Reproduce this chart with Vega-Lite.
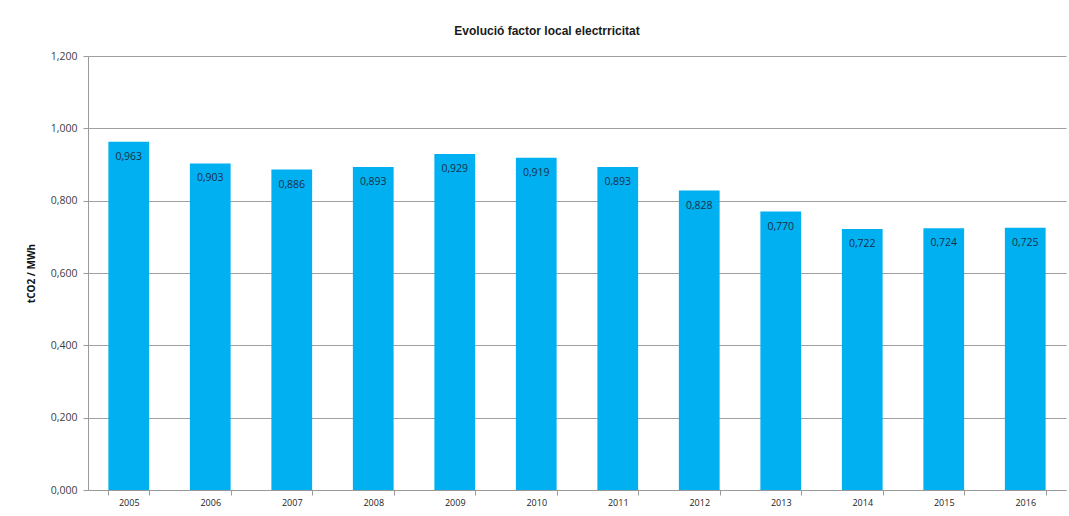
{
  "$schema": "https://vega.github.io/schema/vega-lite/v6.json",
  "width": 978,
  "height": 434,
  "autosize": {"type": "none"},
  "padding": {"left": 88, "top": 56, "right": 3, "bottom": 26},
  "background": "white",
  "title": {
    "text": "Evolució factor local electrricitat",
    "font": "Liberation Sans",
    "fontSize": 12,
    "fontWeight": "bold",
    "color": "#1a1a1a",
    "anchor": "middle",
    "dx": -30,
    "offset": 13
  },
  "data": {
    "values": [
      {"year": "2005", "value": 0.963},
      {"year": "2006", "value": 0.903},
      {"year": "2007", "value": 0.886},
      {"year": "2008", "value": 0.893},
      {"year": "2009", "value": 0.929},
      {"year": "2010", "value": 0.919},
      {"year": "2011", "value": 0.893},
      {"year": "2012", "value": 0.828},
      {"year": "2013", "value": 0.770},
      {"year": "2014", "value": 0.722},
      {"year": "2015", "value": 0.724},
      {"year": "2016", "value": 0.725}
    ]
  },
  "encoding": {
    "x": {
      "field": "year",
      "type": "ordinal",
      "scale": {"paddingInner": 0.5, "paddingOuter": 0.25},
      "axis": {
        "title": null,
        "labelAngle": 0,
        "labelFont": "Open Sans",
        "labelFontSize": 9,
        "labelColor": "#222222",
        "labelPadding": 3,
        "tickBand": "extent",
        "tickSize": 5,
        "tickColor": "#9a9a9a",
        "domainColor": "#9a9a9a"
      }
    },
    "y": {
      "field": "value",
      "type": "quantitative",
      "scale": {"domain": [0, 1.2], "nice": false},
      "axis": {
        "title": "tCO2 / MWh",
        "titleFont": "Open Sans",
        "titleFontSize": 10,
        "titleFontWeight": "bold",
        "titleColor": "#111111",
        "titlePadding": 14,
        "values": [0, 0.2, 0.4, 0.6, 0.8, 1.0, 1.2],
        "format": ",.3f",
        "labelFont": "Open Sans",
        "labelFontSize": 10.5,
        "labelColor": "#404040",
        "labelPadding": 6,
        "tickSize": 5,
        "tickColor": "#9a9a9a",
        "domainColor": "#9a9a9a",
        "gridColor": "#a0a0a0",
        "grid": true
      }
    }
  },
  "layer": [
    {"mark": {"type": "bar", "color": "#00B0F0"}},
    {
      "mark": {
        "type": "text",
        "baseline": "middle",
        "align": "center",
        "dy": 15,
        "font": "Open Sans",
        "fontSize": 10.5,
        "color": "#1a2f4a"
      },
      "encoding": {"text": {"field": "value", "type": "quantitative", "format": ".3f"}}
    }
  ],
  "config": {
    "view": {"stroke": null},
    "locale": {
      "number": {"decimal": ",", "thousands": ".", "grouping": [3], "currency": ["", " €"]}
    }
  }
}
